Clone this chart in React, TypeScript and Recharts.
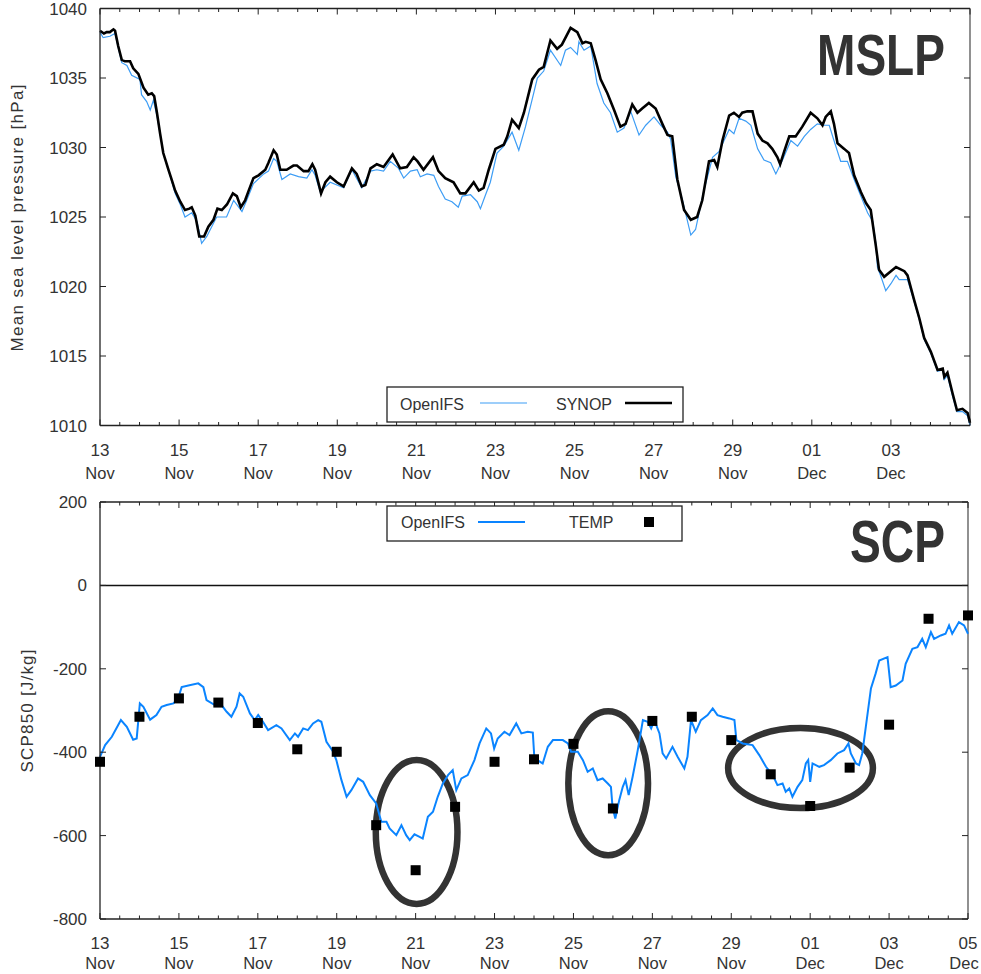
import { ComposedChart, Line, Scatter, XAxis, YAxis, ReferenceLine, ReferenceArea } from "recharts";

// time axis: days since 13 Nov 00 UTC
// MSLP observed at the SYNOP station [day, hPa]
const synopMslp: [number, number][] = [
  [0, 1038.4], [0.1, 1038.2], [0.17, 1038.3], [0.25, 1038.3], [0.34, 1038.5], [0.38, 1038.4], [0.46, 1037.3],
  [0.55, 1036.3], [0.63, 1036.2], [0.76, 1036.2], [0.84, 1035.7], [0.97, 1035.3], [1.1, 1034.3], [1.22, 1033.8],
  [1.31, 1033.9], [1.37, 1033.7], [1.44, 1032.5], [1.52, 1031.0], [1.6, 1029.6], [1.73, 1028.4], [1.81, 1027.7],
  [1.9, 1026.9], [2.03, 1026.1], [2.15, 1025.5], [2.26, 1025.6], [2.32, 1025.7], [2.41, 1025.1], [2.51, 1023.6],
  [2.63, 1023.6], [2.74, 1024.3], [2.87, 1024.8], [2.97, 1025.6], [3.08, 1025.5], [3.21, 1025.9], [3.36, 1026.7],
  [3.46, 1026.5], [3.56, 1025.7], [3.67, 1026.2], [3.76, 1026.9], [3.88, 1027.8], [4.01, 1028.0], [4.18, 1028.4],
  [4.26, 1028.9], [4.39, 1029.8], [4.47, 1029.5], [4.56, 1028.4], [4.72, 1028.4], [4.89, 1028.7], [4.98, 1028.7],
  [5.15, 1028.3], [5.27, 1028.3], [5.37, 1028.8], [5.44, 1028.4], [5.59, 1026.7], [5.7, 1027.5], [5.82, 1027.9],
  [5.99, 1027.5], [6.16, 1027.2], [6.37, 1028.5], [6.49, 1028.1], [6.62, 1027.2], [6.71, 1027.3], [6.84, 1028.5],
  [7.0, 1028.8], [7.17, 1028.6], [7.4, 1029.5], [7.59, 1028.5], [7.76, 1028.6], [7.93, 1029.3], [8.03, 1029.0],
  [8.18, 1028.4], [8.42, 1029.3], [8.56, 1028.3], [8.73, 1027.8], [8.94, 1027.5], [9.11, 1026.7], [9.24, 1026.7],
  [9.45, 1027.5], [9.58, 1026.9], [9.7, 1027.1], [9.83, 1028.4], [10.0, 1029.9], [10.21, 1030.2], [10.3, 1030.8],
  [10.42, 1032.0], [10.59, 1031.4], [10.72, 1032.5], [10.93, 1034.9], [11.1, 1035.6], [11.22, 1035.8],
  [11.39, 1037.7], [11.56, 1037.1], [11.68, 1037.4], [11.9, 1038.6], [12.07, 1038.3], [12.2, 1037.5],
  [12.28, 1037.6], [12.41, 1037.5], [12.53, 1036.3], [12.66, 1034.9], [12.83, 1033.9], [13.0, 1032.7],
  [13.16, 1031.5], [13.29, 1031.7], [13.46, 1033.1], [13.59, 1032.5], [13.71, 1032.8], [13.88, 1033.2],
  [14.05, 1032.8], [14.22, 1031.7], [14.35, 1030.9], [14.47, 1030.8], [14.6, 1027.7], [14.77, 1025.5],
  [14.94, 1024.8], [15.1, 1025.0], [15.23, 1026.2], [15.4, 1029.0], [15.53, 1029.1], [15.61, 1028.6],
  [15.74, 1030.5], [15.91, 1032.3], [16.03, 1032.5], [16.16, 1032.2], [16.24, 1032.5], [16.37, 1032.6],
  [16.5, 1032.6], [16.63, 1031.0], [16.75, 1030.5], [16.88, 1030.3], [17.0, 1029.9], [17.13, 1029.3],
  [17.2, 1028.8], [17.3, 1029.7], [17.43, 1030.8], [17.59, 1030.8], [17.76, 1031.5], [17.97, 1032.5],
  [18.14, 1032.1], [18.27, 1031.6], [18.35, 1032.2], [18.48, 1032.6], [18.56, 1031.7], [18.65, 1030.3],
  [18.82, 1029.9], [18.94, 1029.6], [19.07, 1028.0], [19.24, 1026.8], [19.37, 1026.0], [19.49, 1025.5],
  [19.62, 1022.9], [19.7, 1021.2], [19.83, 1020.7], [20.0, 1021.1], [20.13, 1021.4], [20.34, 1021.1],
  [20.42, 1020.8], [20.59, 1019.0], [20.72, 1017.7], [20.84, 1016.3], [21.01, 1015.3], [21.18, 1014.0],
  [21.31, 1014.1], [21.35, 1013.5], [21.43, 1013.8], [21.56, 1012.3], [21.67, 1011.1], [21.81, 1011.2],
  [21.94, 1010.9], [22.0, 1010.2],
];

// MSLP from the OpenIFS run [day, hPa]
const openifsMslp: [number, number][] = [
  [0, 1038.3], [0.08, 1037.9], [0.25, 1038.0], [0.38, 1038.2], [0.55, 1036.1], [0.68, 1035.9], [0.8, 1035.2],
  [1.01, 1034.9], [1.05, 1033.8], [1.18, 1033.3], [1.27, 1032.7], [1.35, 1033.4], [1.44, 1032.3], [1.52, 1031.0],
  [1.6, 1029.6], [1.73, 1028.4], [1.81, 1027.6], [1.9, 1026.7], [2.03, 1025.9], [2.15, 1025.0], [2.32, 1025.3],
  [2.45, 1024.7], [2.57, 1023.1], [2.7, 1023.6], [2.95, 1025.0], [3.2, 1025.0], [3.38, 1026.2], [3.59, 1025.4],
  [3.71, 1026.2], [3.88, 1027.4], [4.14, 1028.1], [4.26, 1028.3], [4.39, 1029.2], [4.47, 1029.0], [4.6, 1027.7],
  [4.81, 1028.1], [5.02, 1027.9], [5.23, 1027.8], [5.36, 1028.4], [5.44, 1028.0], [5.57, 1026.8], [5.82, 1027.5],
  [6.16, 1027.1], [6.37, 1028.4], [6.62, 1027.1], [6.84, 1028.3], [7.0, 1028.4], [7.17, 1028.3], [7.34, 1029.0],
  [7.55, 1028.5], [7.68, 1027.8], [7.85, 1028.3], [8.02, 1028.4], [8.1, 1027.9], [8.27, 1028.1], [8.44, 1028.0],
  [8.56, 1027.2], [8.73, 1026.3], [8.9, 1026.1], [9.06, 1025.7], [9.16, 1026.5], [9.37, 1026.6], [9.54, 1026.1],
  [9.62, 1025.6], [9.75, 1026.6], [9.87, 1027.5], [10.04, 1029.6], [10.21, 1030.1], [10.42, 1031.1],
  [10.59, 1029.8], [10.76, 1031.5], [11.06, 1035.0], [11.22, 1035.5], [11.39, 1037.0], [11.65, 1035.9],
  [11.77, 1037.0], [11.9, 1037.2], [12.07, 1036.7], [12.11, 1037.6], [12.24, 1037.0], [12.41, 1037.3],
  [12.57, 1034.6], [12.74, 1033.2], [12.91, 1032.5], [13.08, 1031.1], [13.25, 1031.4], [13.42, 1032.6],
  [13.63, 1030.9], [13.8, 1031.6], [14.01, 1032.2], [14.18, 1031.6], [14.35, 1031.1], [14.43, 1030.6],
  [14.56, 1027.9], [14.73, 1026.2], [14.94, 1023.7], [15.06, 1024.1], [15.27, 1026.9], [15.49, 1029.3],
  [15.65, 1029.7], [15.91, 1031.3], [16.03, 1031.0], [16.16, 1032.1], [16.33, 1031.9], [16.46, 1031.6],
  [16.63, 1029.9], [16.79, 1029.1], [16.96, 1028.9], [17.09, 1028.1], [17.26, 1029.1], [17.47, 1030.5],
  [17.64, 1030.1], [17.81, 1030.8], [17.97, 1031.3], [18.14, 1031.7], [18.31, 1031.6], [18.44, 1031.6],
  [18.56, 1030.5], [18.73, 1029.0], [18.9, 1029.0], [19.07, 1027.7], [19.24, 1026.5], [19.41, 1025.3],
  [19.54, 1024.7], [19.62, 1023.1], [19.66, 1021.4], [19.75, 1020.7], [19.87, 1019.7], [20.0, 1020.2],
  [20.13, 1020.8], [20.21, 1020.5], [20.42, 1020.5], [20.59, 1018.9], [20.72, 1017.6], [20.84, 1016.2],
  [21.01, 1015.2], [21.18, 1013.9], [21.31, 1014.0], [21.35, 1013.3], [21.43, 1013.6], [21.56, 1012.1],
  [21.67, 1011.0], [21.81, 1011.0], [21.94, 1010.7], [22.0, 1010.0],
];

// SCP at 850 hPa from the OpenIFS run [day, J/kg]
const openifsScp: [number, number][] = [
  [0, -411], [0.13, -383], [0.3, -363], [0.53, -323], [0.68, -339], [0.84, -370], [0.93, -367], [1.01, -283],
  [1.1, -291], [1.27, -322], [1.43, -311], [1.56, -291], [1.69, -287], [1.86, -283], [1.98, -271], [2.07, -244],
  [2.24, -240], [2.49, -235], [2.62, -244], [2.7, -275], [2.91, -287], [3.08, -287], [3.21, -303], [3.33, -315],
  [3.46, -291], [3.54, -259], [3.63, -267], [3.8, -307], [3.92, -323], [4.01, -311], [4.13, -327], [4.26, -347],
  [4.47, -335], [4.6, -343], [4.81, -371], [4.94, -355], [5.02, -363], [5.15, -343], [5.27, -347], [5.4, -331],
  [5.53, -323], [5.61, -327], [5.74, -375], [5.91, -399], [5.99, -419], [6.12, -467], [6.25, -507], [6.37, -491],
  [6.54, -463], [6.67, -471], [6.84, -503], [7.0, -523], [7.13, -567], [7.26, -567], [7.34, -583], [7.51, -599],
  [7.64, -575], [7.76, -599], [7.85, -611], [7.97, -597], [8.1, -603], [8.18, -607], [8.31, -555], [8.44, -543],
  [8.56, -507], [8.69, -475], [8.82, -455], [8.94, -443], [9.03, -491], [9.16, -463], [9.32, -455], [9.49, -419],
  [9.62, -379], [9.79, -343], [9.91, -355], [9.99, -391], [10.08, -367], [10.25, -351], [10.38, -359],
  [10.55, -331], [10.68, -355], [10.84, -351], [10.97, -353], [11.01, -415], [11.22, -427], [11.35, -387],
  [11.48, -371], [11.73, -371], [11.86, -379], [11.94, -399], [12.11, -399], [12.24, -419], [12.36, -447],
  [12.49, -439], [12.61, -467], [12.74, -463], [12.87, -475], [12.95, -483], [12.99, -531], [13.06, -559],
  [13.16, -515], [13.25, -483], [13.32, -467], [13.4, -503], [13.5, -459], [13.63, -395], [13.76, -323],
  [13.88, -327], [13.97, -343], [14.05, -323], [14.18, -355], [14.26, -403], [14.35, -415], [14.51, -387],
  [14.64, -411], [14.81, -439], [14.89, -411], [14.98, -323], [15.1, -351], [15.23, -323], [15.4, -311],
  [15.53, -295], [15.65, -311], [15.78, -315], [15.95, -319], [16.08, -323], [16.13, -371], [16.29, -379],
  [16.54, -383], [16.71, -407], [16.88, -435], [17.05, -455], [17.17, -479], [17.3, -475], [17.38, -495],
  [17.47, -487], [17.55, -507], [17.68, -483], [17.8, -467], [17.89, -427], [17.95, -419], [18.0, -471],
  [18.06, -427], [18.23, -435], [18.35, -431], [18.52, -419], [18.69, -403], [18.86, -395], [18.97, -379],
  [19.03, -403], [19.16, -427], [19.24, -431], [19.32, -403], [19.41, -339], [19.54, -247], [19.66, -211],
  [19.75, -180], [19.96, -172], [20.04, -244], [20.17, -240], [20.34, -228], [20.42, -188], [20.59, -152],
  [20.72, -148], [20.84, -128], [20.93, -148], [21.06, -112], [21.14, -128], [21.31, -120], [21.43, -116],
  [21.52, -96], [21.6, -116], [21.77, -88], [21.9, -96], [22.0, -116],
];

// daily 00 UTC radiosonde (TEMP) values
const tempDays = [0, 1, 2, 3, 4, 5, 6, 7, 8, 9, 10, 11, 12, 13, 14, 15, 16, 17, 18, 19, 20, 21, 22];
const tempScp = [
  -423, -315, -271, -281, -330, -393, -399, -575, -683, -531, -423, -417,
  -380, -535, -325, -315, -371, -453, -529, -437, -334, -80, -72,
];

// labelled dates every second day
const majorDays = [0, 2, 4, 6, 8, 10, 12, 14, 16, 18, 20, 22];
const dayLabels = ["13", "15", "17", "19", "21", "23", "25", "27", "29", "01", "03", "05"];
const monthLabels = ["Nov", "Nov", "Nov", "Nov", "Nov", "Nov", "Nov", "Nov", "Nov", "Dec", "Dec", "Dec"];
const halfDays = Array.from({ length: 45 }, (_, i) => i / 2);

const mslpTicks = [1010, 1015, 1020, 1025, 1030, 1035, 1040];
const scpTicks = [-800, -600, -400, -200, 0, 200];

// highlighted periods: [day from, day to, SCP upper, SCP lower]
const scpCircles: [number, number, number, number][] = [
  [6.99, 9.06, -419, -764],
  [11.87, 13.89, -302, -647],
  [15.92, 19.59, -342, -534],
];

const toPoints = (rows: [number, number][]) => rows.map(([day, v]) => ({ day, v }));
const synopData = toPoints(synopMslp);
const ifsMslpData = toPoints(openifsMslp);
const ifsScpData = toPoints(openifsScp);
const tempData = tempDays.map((day, i) => ({ day, v: tempScp[i] }));

const FONT = '"Liberation Sans", Arial, Helvetica, sans-serif';
const AXIS = "#222";
const TEXT = "#333";
const BLUE_THIN = "#3d9df5";
const BLUE = "#0a84ff";

function DayTick(props: any) {
  const { x, y, payload, top, lastLabel, monthDy } = props;
  const idx = majorDays.indexOf(payload.value);
  const len = idx >= 0 ? 6 : 3.5;
  // keep the rightmost month name inside the figure
  const mx = Math.min(x, 964);
  return (
    <g>
      <line x1={x} x2={x} y1={y} y2={y - len} stroke={AXIS} />
      <line x1={x} x2={x} y1={top} y2={top + len} stroke={AXIS} />
      {idx >= 0 && payload.value <= lastLabel && (
        <text textAnchor="middle" fill={TEXT} fontSize={17} fontFamily={FONT}>
          <tspan x={x} y={y + 30}>{dayLabels[idx]}</tspan>
          <tspan x={mx} y={y + monthDy} fontSize={16.5}>{monthLabels[idx]}</tspan>
        </text>
      )}
    </g>
  );
}

function ValueTick(props: any) {
  const { x, y, payload, right } = props;
  return (
    <g>
      <line x1={x} x2={x + 6} y1={y} y2={y} stroke={AXIS} />
      <line x1={right - 6} x2={right} y1={y} y2={y} stroke={AXIS} />
      <text x={x - 13} y={y + 6} textAnchor="end" fill={TEXT} fontSize={17} fontFamily={FONT}>
        {payload.value}
      </text>
    </g>
  );
}

function MslpPanel() {
  const top = 8.5;
  const right = 970;
  return (
    <div style={{ position: "absolute", left: 0, top: 0, width: 981, height: 490 }}>
      <ComposedChart width={981} height={490} margin={{ top, right: 981 - right, bottom: 0, left: 0 }}>
        <XAxis
          dataKey="day"
          type="number"
          domain={[0, 22]}
          ticks={halfDays}
          interval={0}
          height={490 - 425.5}
          tickSize={0}
          tickMargin={0}
          axisLine={{ stroke: AXIS, strokeWidth: 1.3 }}
          tick={(p: any) => <DayTick {...p} top={top} lastLabel={20} monthDy={53} />}
        />
        <YAxis
          type="number"
          domain={[1010, 1040]}
          ticks={mslpTicks}
          interval={0}
          width={100}
          tickSize={0}
          tickMargin={0}
          axisLine={{ stroke: AXIS, strokeWidth: 1.3 }}
          tick={(p: any) => <ValueTick {...p} right={right} />}
        />
        <ReferenceLine y={1040} stroke={AXIS} strokeWidth={1.3} />
        <ReferenceLine x={22} stroke="#555" strokeWidth={1.3} />
        <Line data={ifsMslpData} dataKey="v" stroke={BLUE_THIN} strokeWidth={1.2} dot={false} isAnimationActive={false} />
        <Line data={synopData} dataKey="v" stroke="#000" strokeWidth={2.6} dot={false} isAnimationActive={false} />
      </ComposedChart>
      <svg width={981} height={490} style={{ position: "absolute", left: 0, top: 0, pointerEvents: "none" }}>
        <text x={817} y={75} fontFamily={FONT} fontWeight="bold" fontSize={58} fill={TEXT} textLength={128} lengthAdjust="spacingAndGlyphs">
          MSLP
        </text>
        <text transform="translate(17,218) rotate(-90)" textAnchor="middle" dy="0.35em" fontFamily={FONT} fontSize={17} fill={TEXT} textLength={267} lengthAdjust="spacing">
          Mean sea level pressure [hPa]
        </text>
        <rect x={387} y={387} width={296} height={35} fill="#fff" stroke={AXIS} strokeWidth={1.3} />
        <text x={400} y={410} fontFamily={FONT} fontSize={16} fill={TEXT}>OpenIFS</text>
        <line x1={480} x2={527} y1={403} y2={403} stroke={BLUE_THIN} strokeWidth={1.2} />
        <text x={556} y={410} fontFamily={FONT} fontSize={16} fill={TEXT}>SYNOP</text>
        <line x1={625} x2={672} y1={403} y2={403} stroke="#000" strokeWidth={2.6} />
      </svg>
    </div>
  );
}

function ScpPanel() {
  // panel starts at page y = 490, plot frame 502..919
  const top = 12;
  const right = 968;
  return (
    <div style={{ position: "absolute", left: 0, top: 490, width: 981, height: 484 }}>
      <ComposedChart width={981} height={484} margin={{ top, right: 981 - right, bottom: 0, left: 0 }}>
        <XAxis
          dataKey="day"
          type="number"
          domain={[0, 22]}
          ticks={halfDays}
          interval={0}
          height={484 - 429}
          tickSize={0}
          tickMargin={0}
          axisLine={{ stroke: AXIS, strokeWidth: 1.3 }}
          tick={(p: any) => <DayTick {...p} top={top} lastLabel={22} monthDy={50} />}
        />
        <YAxis
          type="number"
          domain={[-800, 200]}
          ticks={scpTicks}
          interval={0}
          width={100}
          tickSize={0}
          tickMargin={0}
          axisLine={{ stroke: AXIS, strokeWidth: 1.3 }}
          tick={(p: any) => <ValueTick {...p} right={right} />}
        />
        <ReferenceLine y={200} stroke={AXIS} strokeWidth={1.3} />
        <ReferenceLine x={22} stroke="#555" strokeWidth={1.3} />
        <ReferenceLine y={0} stroke="#111" strokeWidth={1.5} />
        <Line data={ifsScpData} dataKey="v" stroke={BLUE} strokeWidth={2} dot={false} isAnimationActive={false} />
        <Scatter
          data={tempData}
          dataKey="v"
          fill="#000"
          isAnimationActive={false}
          shape={(p: any) => <rect x={p.cx - 5} y={p.cy - 5} width={10} height={10} fill="#000" />}
        />
        {scpCircles.map(([x1, x2, y1, y2], i) => (
          <ReferenceArea
            key={i}
            x1={x1}
            x2={x2}
            y1={y1}
            y2={y2}
            shape={(p: any) => (
              <ellipse
                cx={p.x + p.width / 2}
                cy={p.y + p.height / 2}
                rx={p.width / 2}
                ry={p.height / 2}
                fill="none"
                stroke="#333"
                strokeWidth={6.5}
              />
            )}
          />
        ))}
      </ComposedChart>
      <svg width={981} height={484} style={{ position: "absolute", left: 0, top: 0, pointerEvents: "none" }}>
        <text x={850} y={72} fontFamily={FONT} fontWeight="bold" fontSize={60} fill={TEXT} textLength={95} lengthAdjust="spacingAndGlyphs">
          SCP
        </text>
        <text transform="translate(27,221) rotate(-90)" textAnchor="middle" dy="0.35em" fontFamily={FONT} fontSize={17} fill={TEXT} textLength={123} lengthAdjust="spacing">
          SCP850 [J/kg]
        </text>
        <rect x={387} y={16} width={295} height={35} fill="#fff" stroke={AXIS} strokeWidth={1.3} />
        <text x={401} y={38} fontFamily={FONT} fontSize={16} fill={TEXT}>OpenIFS</text>
        <line x1={478} x2={525} y1={32} y2={32} stroke={BLUE} strokeWidth={2} />
        <text x={569} y={38} fontFamily={FONT} fontSize={16} fill={TEXT}>TEMP</text>
        <rect x={644} y={27} width={10} height={10} fill="#000" />
      </svg>
    </div>
  );
}

export default function App() {
  return (
    <div style={{ position: "absolute", left: 0, top: 0, width: 981, height: 974, background: "#fff" }}>
      <MslpPanel />
      <ScpPanel />
    </div>
  );
}
